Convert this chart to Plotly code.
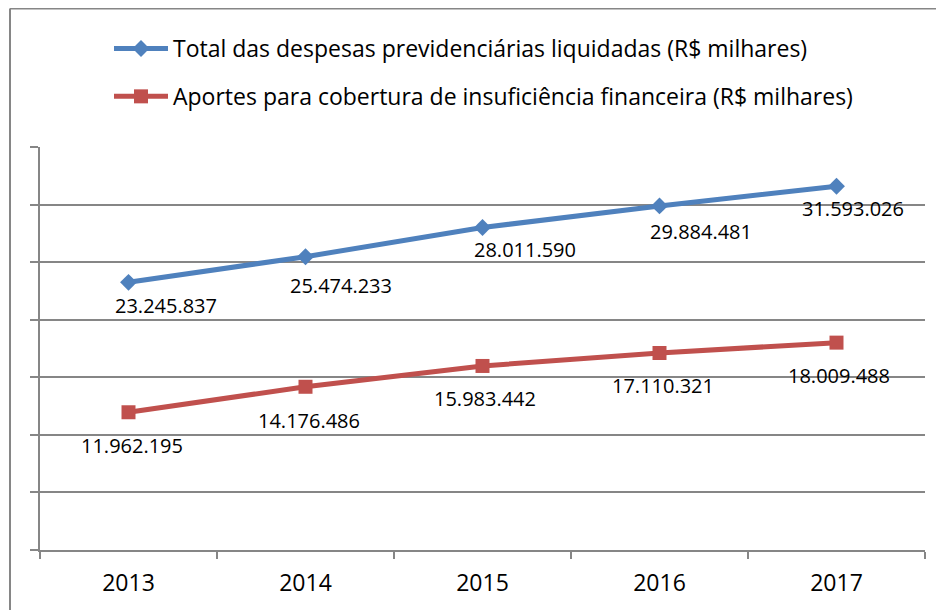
import plotly.graph_objects as go

years = ["2013", "2014", "2015", "2016", "2017"]
despesas = [23245837, 25474233, 28011590, 29884481, 31593026]
aportes = [11962195, 14176486, 15983442, 17110321, 18009488]
name_despesas = "Total das despesas previdenciárias liquidadas (R$ milhares)"
name_aportes = "Aportes para cobertura de insuficiência financeira (R$ milhares)"

def fmt(v):
    return f"{v:,}".replace(",", ".")

BLUE = "#4F81BD"
RED = "#C0504D"
GRID = "#868686"
FONT = "Open Sans"

# label offsets (pixels, x right, y up) relative to each marker
blue_off = [(37, -23), (35, -29), (42, -22), (41, -26), (16, -22)]
red_off = [(3, -33), (3, -34), (2, -33), (3, -33), (2, -33)]

fig = go.Figure()
fig.add_trace(go.Scatter(
    x=years, y=despesas, name=name_despesas, mode="lines+markers",
    line=dict(color=BLUE, width=5),
    marker=dict(symbol="diamond", size=13, color=BLUE),
    legendgroup="a",
))
fig.add_trace(go.Scatter(
    x=years, y=aportes, name=name_aportes, mode="lines+markers",
    line=dict(color=RED, width=5),
    marker=dict(symbol="square", size=14, color=RED),
    legendgroup="b",
))

annotations = []
for i, (v, (dx, dy)) in enumerate(zip(despesas, blue_off)):
    annotations.append(dict(x=i, y=v, xref="x", yref="y", text=fmt(v), showarrow=False,
                            xshift=dx, yshift=dy, font=dict(family=FONT, size=20, color="#000")))
for i, (v, (dx, dy)) in enumerate(zip(aportes, red_off)):
    annotations.append(dict(x=i, y=v, xref="x", yref="y", text=fmt(v), showarrow=False,
                            xshift=dx, yshift=dy, font=dict(family=FONT, size=20, color="#000")))

# the page body has an 8px margin, so the figure is sized to fill the window
OFF = 8
W, H = 944 - OFF, 610 - OFF
L, R, T, B = 40 - OFF, 944 - 925, 147 - OFF, 610 - 550
pw, ph = W - L - R, H - T - B
def px(xp):  # page pixel -> paper x
    return (xp - OFF - L) / pw
def py(yp):  # page pixel -> paper y
    return (H - B - (yp - OFF)) / ph

shapes = [
    dict(type="line", xref="paper", yref="paper", x0=px(10), x1=px(960), y0=py(8.5), y1=py(8.5),
         line=dict(color=GRID, width=2)),
    dict(type="line", xref="paper", yref="paper", x0=px(10), x1=px(10), y0=py(8.5), y1=py(630),
         line=dict(color=GRID, width=2)),
]

fig.update_layout(
    width=W, height=H,
    margin=dict(l=L, r=R, t=T, b=B, pad=0, autoexpand=False),
    paper_bgcolor="white", plot_bgcolor="white",
    font=dict(family=FONT, color="#000"),
    showlegend=True,
    legend=dict(x=px(109), y=py(27), xanchor="left", yanchor="top",
                font=dict(family=FONT, size=23, color="#000"),
                traceorder="grouped", tracegroupgap=15, itemwidth=54,
                bgcolor="rgba(0,0,0,0)"),
    annotations=annotations,
    shapes=shapes,
    xaxis=dict(type="category", range=[-0.5, 4.5], tickson="boundaries", ticks="outside", ticklen=7,
               tickcolor=GRID, tickwidth=1.5, showline=True, linecolor=GRID, linewidth=1.5,
               showgrid=False, zeroline=False, ticklabelstandoff=12, automargin=False,
               tickangle=0, tickfont=dict(family=FONT, size=23, color="#000")),
    yaxis=dict(range=[0, 35000000], dtick=5000000, showticklabels=False, ticks="outside",
               ticklen=8, tickcolor=GRID, tickwidth=1.5, showline=True, linecolor=GRID,
               linewidth=1.5, showgrid=True, gridcolor=GRID, gridwidth=1.5, zeroline=False,
               automargin=False),
)

fig.write_html("out.html")
